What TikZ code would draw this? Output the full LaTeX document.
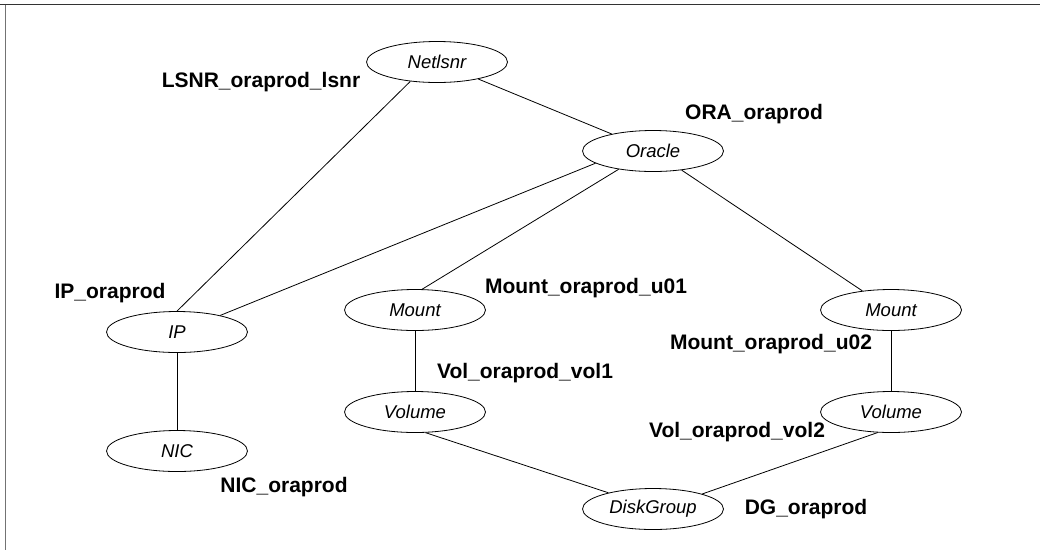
\documentclass[tikz,border=0pt]{standalone}
\usepackage{fontspec}
\setmainfont{Liberation Sans}
\usepackage{tikz}
\usetikzlibrary{positioning, shapes.geometric}

\begin{document}
\begin{tikzpicture}[on grid, line width=0.8pt,
	res/.style={ellipse, draw, minimum width=141pt, minimum height=41pt, inner sep=0pt, font=\fontsize{18.5}{20}\selectfont\itshape},
	lbl/.style={inner sep=0pt, font=\fontsize{21}{24}\selectfont\bfseries}]
	
	\useasboundingbox (0,0) rectangle (1040pt,-550pt);
	\draw [line width=1.5pt, black!80] (0,-4.5pt) -- (1040pt,-4.5pt);
	\draw [line width=1.5pt, black!55] (5.7pt,-4.5pt) -- (5.7pt,-550pt);
	
	\node (netlsnr) [res] at (437pt,-62pt) {Netlsnr};
	\node (oracle) [res, below right=89pt and 216pt of netlsnr] {Oracle};
	\node (ip) [res, below left=270pt and 260pt of netlsnr] {IP};
	\node (nic) [res, below=119pt of ip] {NIC};
	\node (mount1) [res, below left=159pt and 238pt of oracle] {Mount};
	\node (vol1) [res, below=102pt of mount1] {Volume};
	\node (mount2) [res, below right=159pt and 238pt of oracle] {Mount};
	\node (vol2) [res, below=102pt of mount2] {Volume};
	\node (dg) [res, below=358pt of oracle] {DiskGroup};
	
	\node (lsnrlbl) [lbl, below left=20pt and 176pt of netlsnr] {LSNR\_oraprod\_lsnr};
	\node (oralbl) [lbl, above right=37pt and 101pt of oracle] {ORA\_oraprod};
	\node (iplbl) [lbl, above left=39pt and 67pt of ip] {IP\_oraprod};
	\node (niclbl) [lbl, below right=36pt and 107pt of nic] {NIC\_oraprod};
	\node (mount1lbl) [lbl, above right=22pt and 171pt of mount1] {Mount\_oraprod\_u01};
	\node (vol1lbl) [lbl, above right=39pt and 110pt of vol1] {Vol\_oraprod\_vol1};
	\node (mount2lbl) [lbl, below left=34pt and 120pt of mount2] {Mount\_oraprod\_u02};
	\node (vol2lbl) [lbl, below left=20pt and 154pt of vol2] {Vol\_oraprod\_vol2};
	\node (dglbl) [lbl, right=153pt of dg] {DG\_oraprod};
	
	\path
	(netlsnr.216) edge (ip.north)
	(netlsnr) edge (oracle)
	
	(oracle.192) edge (ip.21)
	(oracle.208) edge (mount1.71)
	(oracle) edge (mount2)
	
	(ip) edge (nic)
	(mount1) edge (vol1)
	(mount2) edge (vol2)
	
	(vol1.297) edge (dg.160)
	(vol2.237) edge (dg.17);
\end{tikzpicture}
\end{document}
